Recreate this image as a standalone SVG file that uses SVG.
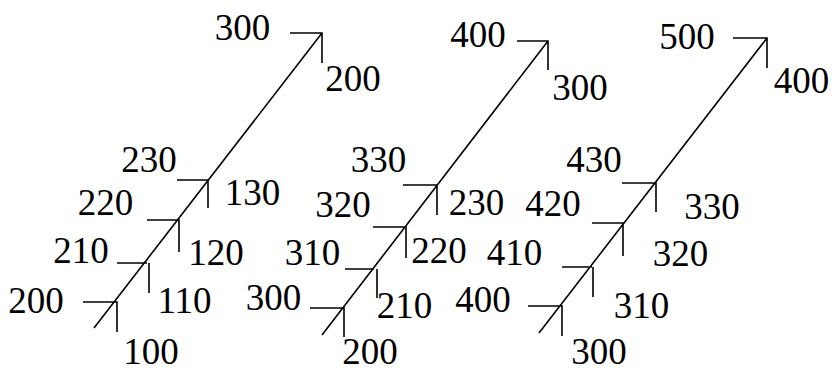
<svg xmlns="http://www.w3.org/2000/svg" width="832" height="372" viewBox="0 0 832 372">
<style>
.ln{stroke:#000;stroke-width:1.6;fill:none;stroke-linecap:butt}
</style>
<rect width="832" height="372" fill="#fff"/>
<g id="connectors">
<g id="axis1">
<path class="ln" d="M94 328 L322 33 M290 33 H322 V63 M177 180 H208 V208 M147 220 H179 V252 M117 263 H147 M149 263 V293 M83 302 H117 V332"/>
</g>
<g id="axis2">
<path class="ln" d="M322 335 L548 41 M517 41 H548 V70 M403 185 H437 V215 M373 227 H406 V258 M345 269 H374 M377 269 V298 M310 308 H344 V337"/>
</g>
<g id="axis3">
<path class="ln" d="M539 333 L767 38 M733 38 H767 V68 M622 183 H656 V212 M592 223 H623 V256 M562 267 H592 M593 267 V297 M528 306 H562 V336"/>
</g>
</g>
<g font-family="Liberation Serif, Times New Roman, serif" font-size="37" fill="#000" text-anchor="middle">
<g id="diagram1">
<text x="242.5" y="40">300</text>
<text x="353" y="91">200</text>
<text x="149" y="172">230</text>
<text x="252.5" y="205">130</text>
<text x="105.5" y="215">220</text>
<text x="216" y="265">120</text>
<text x="81" y="263">210</text>
<text x="184.5" y="313">110</text>
<text x="36" y="313">200</text>
<text x="151" y="364">100</text>
</g>
<g id="diagram2">
<text x="478" y="47">400</text>
<text x="580" y="100">300</text>
<text x="378.5" y="172">330</text>
<text x="476.5" y="215">230</text>
<text x="343" y="217">320</text>
<text x="439" y="263">220</text>
<text x="312.5" y="265">310</text>
<text x="404.5" y="318">210</text>
<text x="273.5" y="310">300</text>
<text x="370" y="364">200</text>
</g>
<g id="diagram3">
<text x="687" y="49">500</text>
<text x="801.5" y="93">400</text>
<text x="594" y="172">430</text>
<text x="712" y="219">330</text>
<text x="553" y="216">420</text>
<text x="680.5" y="266">320</text>
<text x="514.5" y="265">410</text>
<text x="641.5" y="318">310</text>
<text x="483" y="312">400</text>
<text x="599" y="364">300</text>
</g>
</g>
</svg>
